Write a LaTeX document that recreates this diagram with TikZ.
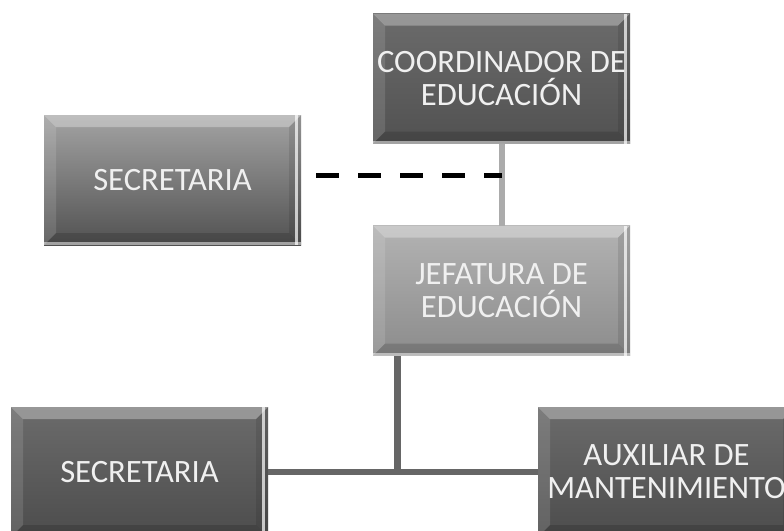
\documentclass[tikz,border=0pt]{standalone}
\usepackage{fontspec}
\setmainfont{Carlito}
\usetikzlibrary{positioning,calc}

\begin{document}
\begin{tikzpicture}[
    x=0.5pt,y=-0.5pt,
    orgbox/.style 2 args={rectangle,minimum width=128.5pt,minimum height=65pt,inner sep=2pt,outer sep=0pt,
      text=white!94!black,align=center,font=\fontsize{16.3}{16.5}\selectfont,top color=#1,bottom color=#2,
      path picture={
        \coordinate (nw) at (path picture bounding box.north west);
        \coordinate (ne) at (path picture bounding box.north east);
        \coordinate (sw) at (path picture bounding box.south west);
        \coordinate (se) at (path picture bounding box.south east);
        \fill[white,opacity=.3] (nw) -- (ne) -- ($(ne)+(-6pt,-6pt)$) -- ($(nw)+(6pt,-6pt)$) -- cycle;
        \fill[white,opacity=.12] (nw) -- ($(nw)+(6pt,-6pt)$) -- ($(sw)+(6pt,6pt)$) -- (sw) -- cycle;
        \fill[black,opacity=.15] (sw) -- ($(sw)+(6pt,6pt)$) -- ($(se)+(-6pt,6pt)$) -- (se) -- cycle;
        \fill[black,opacity=.1] (ne) -- ($(ne)+(-6pt,-6pt)$) -- ($(se)+(-6pt,6pt)$) -- (se) -- cycle;
        \fill[white,opacity=.7] ($(ne)+(-3pt,0pt)$) rectangle ($(se)+(-1.5pt,0pt)$);
        \fill[white,opacity=.5] ($(sw)+(0pt,1.5pt)$) rectangle (se);
      }},
    solid link/.style={line width=3pt,black!60},
  ]
\useasboundingbox (0,0) rectangle (784,531);

\node (coord) [orgbox={black!58}{black!68}] at (501.5,78.5) {COORDINADOR DE\\EDUCACIÓN};
\node (jef) [orgbox={black!30}{black!45},below=41pt of coord] {JEFATURA DE\\EDUCACIÓN};
\node (sec top) [orgbox={black!36}{black!68}] at (172.5,180) {SECRETARIA};
\node (sec bottom) [orgbox={black!58}{black!70}] at (139.5,472) {SECRETARIA};
\node (aux) [orgbox={black!58}{black!70},right=135pt of sec bottom] {AUXILIAR DE\\MANTENIMIENTO};

\draw[line width=3pt,black!33] (coord.south) -- (jef.north);
\draw[line width=2.5pt,black,dash pattern=on 11.5pt off 9.5pt]
  ([xshift=7.5pt,yshift=2.5pt]sec top.east) -- ([yshift=2.5pt]sec top.east -| coord.south);

\coordinate (junction) at ($(sec bottom.east)!0.48!(aux.west)$);
\draw[solid link] (sec bottom.east) -- (aux.west);
\draw[solid link,line width=3.5pt] (junction) -- (junction |- jef.south);
\end{tikzpicture}
\end{document}
